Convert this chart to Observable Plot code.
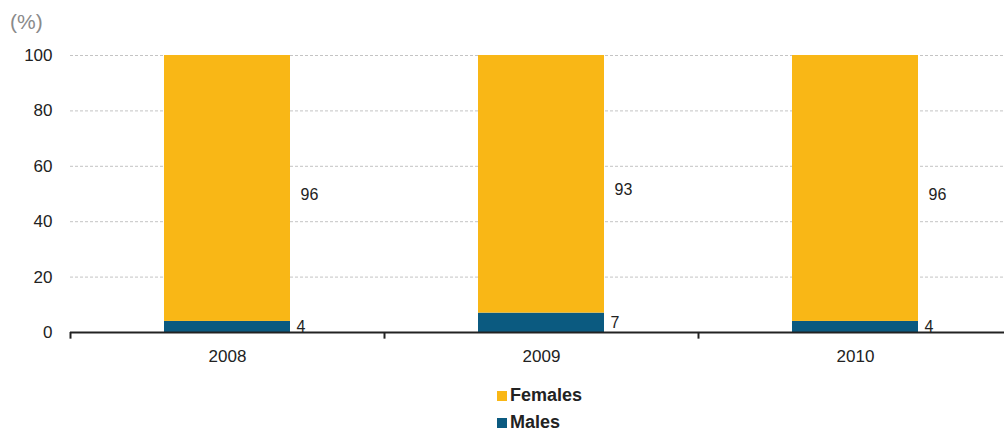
<!DOCTYPE html>
<html>
<head>
<meta charset="utf-8">
<script src="https://cdn.jsdelivr.net/npm/d3@7"></script>
<script src="https://cdn.jsdelivr.net/npm/@observablehq/plot@0.6"></script>
<style>
  body { margin: 0; background: #fff; font-family: "Liberation Sans", Arial, sans-serif; }
  #wrap { position: relative; width: 1004px; height: 432px; overflow: hidden; }
  #unit { position: absolute; left: 10px; top: 9px; font-size: 21px; color: #8a8a8a; line-height: 26px; }
  #legend { position: absolute; left: 497px; top: 382px; font-size: 18px; font-weight: bold; color: #222; line-height: 27px; }
  #legend .sw { display: inline-block; width: 10px; height: 10px; margin-right: 3px; }
</style>
</head>
<body>
<div id="wrap">
  <div id="chart"></div>
  <div id="unit">(%)</div>
  <div id="legend"></div>
</div>
<script>
const years = ["2008", "2009", "2010"];
const females = [96, 93, 96];
const males = [4, 7, 4];
const seriesNames = ["Males", "Females"];
const colors = ["#0b5a80", "#f9b716"];
const yTicks = [0, 20, 40, 60, 80, 100];

const rows = [];
years.forEach((y, i) => {
  rows.push({year: y, sex: "Males", value: males[i]});
  rows.push({year: y, sex: "Females", value: females[i]});
});
const malesRows = years.map((y, i) => ({year: y, value: males[i], mid: males[i] / 2}));
const femalesRows = years.map((y, i) => ({year: y, value: females[i], mid: males[i] + females[i] / 2}));

const chart = Plot.plot({
  width: 1004,
  height: 372,
  marginLeft: 70,
  marginRight: -8,
  marginTop: 55,
  marginBottom: 40,
  style: {fontFamily: "Liberation Sans, Arial, sans-serif", fontSize: "16px", color: "#222", background: "transparent"},
  x: {domain: years, padding: 0, label: null},
  y: {domain: [0, 100], label: null},
  color: {domain: seriesNames, range: colors},
  marks: [
    Plot.ruleY(yTicks.filter(d => d > 0), {stroke: "#c4c4c4", strokeDasharray: "3,2", strokeWidth: 1}),
    Plot.barY(rows, Plot.stackY({x: "year", y: "value", fill: "sex", order: seriesNames, insetLeft: 94, insetRight: 94})),
    Plot.ruleY([0], {stroke: "#222", strokeWidth: 2}),
    Plot.ruleX(years, {x: d => d, dx: -157, y1: 0, y2: -2.4, stroke: "#222", strokeWidth: 2}),
    Plot.text(malesRows, {x: "year", y: "mid", text: d => String(d.value), dx: 69, textAnchor: "start", fontSize: 16, fill: "#222"}),
    Plot.text(femalesRows, {x: "year", y: "mid", text: d => String(d.value), dx: 73, dy: 6, textAnchor: "start", fontSize: 16, fill: "#222"}),
    Plot.axisY(yTicks, {tickSize: 0, tickPadding: 18, fontSize: 17, fill: "#222"}),
    Plot.axisX({tickSize: 0, tickPadding: 17, fontSize: 17, fill: "#222"})
  ]
});
document.getElementById("chart").appendChild(chart);

const legend = document.getElementById("legend");
["Females", "Males"].forEach(name => {
  const row = document.createElement("div");
  const sw = document.createElement("span");
  sw.className = "sw";
  sw.style.background = colors[seriesNames.indexOf(name)];
  row.appendChild(sw);
  row.appendChild(document.createTextNode(name));
  legend.appendChild(row);
});
</script>
</body>
</html>
